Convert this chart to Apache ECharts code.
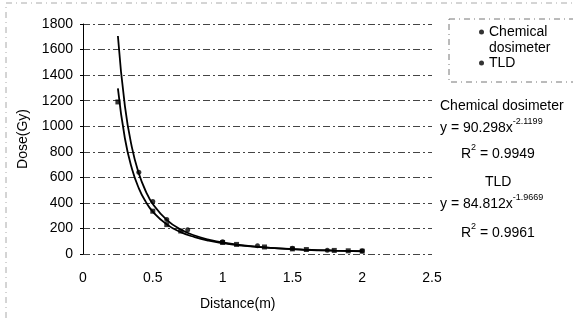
<!DOCTYPE html>
<html>
<head>
<meta charset="utf-8">
<script src="https://cdn.jsdelivr.net/npm/echarts@6/dist/echarts.min.js"></script>
<style>
  html, body { margin: 0; padding: 0; background: #fff; }
  #chart { width: 573px; height: 321px; }
</style>
</head>
<body>
<div id="chart"></div>
<script>
// measured points
var chemX = [0.4, 0.5, 0.6, 0.75, 1.0, 1.25, 1.5, 1.75, 2.0];
var chemY = [640, 410, 270, 190, 95, 65, 45, 30, 25];
var tldX = [0.25, 0.5, 0.6, 0.7, 1.0, 1.1, 1.3, 1.5, 1.6, 1.8, 1.9, 2.0];
var tldY = [1190, 335, 230, 180, 90, 75, 55, 40, 35, 28, 25, 22];

// trend lines
var fitX = [0.25, 0.3, 0.35, 0.4, 0.45, 0.5, 0.6, 0.7, 0.8, 0.9, 1.0, 1.2, 1.4, 1.6, 1.8, 2.0];
var chemFit = [1706, 1159, 836, 630, 491, 392, 267, 192, 145, 113, 90, 61, 44, 33, 26, 21];
var tldFit = [1296, 906, 669, 514, 408, 331, 232, 171, 132, 104, 85, 59, 44, 34, 27, 22];

var yTicks = [0, 200, 400, 600, 800, 1000, 1200, 1400, 1600, 1800];

function pairs(xs, ys) {
    return xs.map(function (x, i) { return [x, ys[i]]; });
}

var chart = echarts.init(document.getElementById('chart'));
var font = 'Liberation Sans, Arial, sans-serif';

//上标文字
function supText(left, top, base, sup, tail) {
    return {
        type: 'text', left: left, top: top,
        style: {
            text: '{a|' + base + '}{s|' + sup + '}' + (tail ? '{a|' + tail + '}' : ''),
            rich: {
                a: { font: '14px ' + font, fill: '#000', padding: [7, 0, 0, 0] },
                s: { font: '9px ' + font, fill: '#000', padding: [0, 0, 7, 0] }
            }
        }
    };
}

var option = {
    animation: false,
    backgroundColor: '#fff',
    textStyle: { fontFamily: font, color: '#000' },
    grid: { left: 83, right: 141, top: 24, bottom: 67 },
    legend: {
        orient: 'vertical',
        left: 474,
        top: 19,
        itemWidth: 5,
        itemHeight: 5,
        itemGap: 15,
        icon: 'circle',
        data: ['Chemical dosimeter', 'TLD'],
        formatter: function (n) { return n === 'Chemical dosimeter' ? 'Chemical' : n; },
        textStyle: { fontFamily: font, fontSize: 14, color: '#000', lineHeight: 16 }
    },
    xAxis: {
        type: 'value',
        min: 0,
        max: 2.5,
        interval: 0.5,
        axisLine: { show: false },
        axisTick: { show: false },
        axisLabel: { fontFamily: font, fontSize: 14, color: '#000', margin: 17 },
        splitLine: { show: false }
    },
    yAxis: {
        type: 'value',
        min: yTicks[0],
        max: yTicks[yTicks.length - 1],
        interval: 200,
        name: 'Dose(Gy)',
        nameLocation: 'middle',
        nameGap: 53,
        nameTextStyle: { fontFamily: font, fontSize: 14, color: '#000' },
        axisLine: { show: true, lineStyle: { color: '#000', width: 1 } },
        axisTick: { show: true, length: 3, lineStyle: { color: '#000' } },
        axisLabel: {
            fontFamily: font, fontSize: 14, color: '#000', margin: 10,
            formatter: function (v) { return String(v); }
        },
        splitLine: { show: true, lineStyle: { color: '#444', width: 1, type: [7, 3, 2, 3] } }
    },
    graphic: [
        {
            type: 'rect',
            shape: { x: 6, y: 3, width: 620, height: 340 },
            style: { fill: null, stroke: '#aaa', lineWidth: 1, lineDash: [6, 4, 1, 4] },
            silent: true
        },
        {
            type: 'rect',
            shape: { x: 449, y: 19, width: 130, height: 63 },
            style: { fill: null, stroke: '#777', lineWidth: 1, lineDash: [6, 4, 1, 4] },
            silent: true
        },
        {
            type: 'text', left: 489, top: 41,
            style: { text: 'dosimeter', font: '14px ' + font, fill: '#000' }
        },
        {
            type: 'text', left: 200, top: 297,
            style: { text: 'Distance(m)', font: '14px ' + font, fill: '#000' }
        },
        {
            type: 'text', left: 440, top: 99,
            style: { text: 'Chemical dosimeter', font: '14px ' + font, fill: '#000' }
        },
        supText(440, 117, 'y = 90.298x', '-2.1199'),
        supText(461, 143, 'R', '2', ' = 0.9949'),
        {
            type: 'text', left: 485, top: 175,
            style: { text: 'TLD', font: '14px ' + font, fill: '#000' }
        },
        supText(440, 193, 'y = 84.812x', '-1.9669'),
        supText(461, 222, 'R', '2', ' = 0.9961')
    ],
    series: [
        {
            name: 'Chemical dosimeter',
            type: 'scatter',
            symbol: 'circle',
            symbolSize: 5,
            itemStyle: { color: '#000' },
            data: pairs(chemX, chemY),
            z: 5
        },
        {
            name: 'TLD',
            type: 'scatter',
            symbol: 'rect',
            symbolSize: 5,
            itemStyle: { color: '#000' },
            data: pairs(tldX, tldY),
            z: 5
        },
        {
            name: 'Chemical fit',
            type: 'line',
            smooth: true,
            showSymbol: false,
            lineStyle: { color: '#000', width: 1.8 },
            data: pairs(fitX, chemFit)
        },
        {
            name: 'TLD fit',
            type: 'line',
            smooth: true,
            showSymbol: false,
            lineStyle: { color: '#000', width: 1.8 },
            data: pairs(fitX, tldFit)
        }
    ]
};

chart.setOption(option);
</script>
</body>
</html>
